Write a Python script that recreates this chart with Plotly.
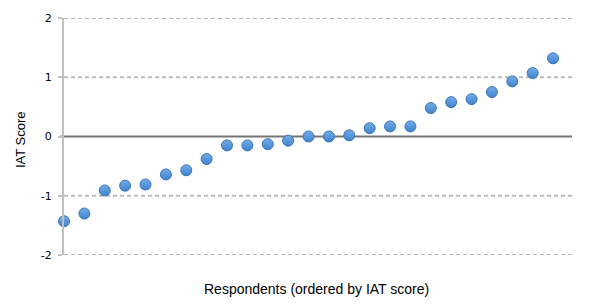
import plotly.graph_objects as go

respondents = list(range(1, 26))
iat_scores = [-1.43, -1.30, -0.91, -0.83, -0.81, -0.64, -0.57, -0.38,
              -0.15, -0.15, -0.13, -0.07, 0.00, 0.00, 0.02, 0.14, 0.17,
              0.17, 0.48, 0.58, 0.63, 0.75, 0.93, 1.07, 1.32]
y_ticks = [-2, -1, 0, 1, 2]
grid_values = [-2, -1, 1, 2]
x_title = "Respondents (ordered by IAT score)"
y_title = "IAT Score"

fig = go.Figure()
fig.add_trace(go.Scatter(
    x=respondents, y=iat_scores, mode="markers",
    marker=dict(size=11, color="#74ace6",
                gradient=dict(type="vertical", color="#3f83cf"),
                line=dict(color="#3a74b8", width=1)),
    showlegend=False, hoverinfo="y", cliponaxis=False))

for g in grid_values:
    fig.add_shape(type="line", xref="paper", yref="y", x0=0, x1=1, y0=g, y1=g,
                  line=dict(color="#bbbbbb", width=2, dash="4px,3px"), layer="below")

fig.add_shape(type="line", xref="paper", yref="y", x0=-0.008, x1=1, y0=0, y1=0,
              line=dict(color="#747474", width=2), layer="below")

fig.add_annotation(text=x_title, xref="paper", yref="paper", x=0.497, y=-0.143,
                   xanchor="center", yanchor="middle", showarrow=False,
                   font=dict(family="Liberation Sans, Arial", size=14, color="#000"))
fig.add_annotation(text=y_title, xref="paper", yref="paper", x=-0.0866, y=0.485,
                   xanchor="center", yanchor="middle", showarrow=False, textangle=-90,
                   font=dict(family="Liberation Sans, Arial", size=13, color="#000"))

fig.update_layout(
    width=583, height=299,
    margin=dict(l=56, r=19, t=10, b=52, autoexpand=False),
    paper_bgcolor="white", plot_bgcolor="white",
    xaxis=dict(range=[1, 25.93], showgrid=False, zeroline=False, automargin=False,
               showticklabels=False, ticks="", showline=False),
    yaxis=dict(range=[-2, 2], tickvals=y_ticks, ticktext=[str(v) for v in y_ticks],
               showgrid=False, automargin=False, ticklabelstandoff=4,
               zeroline=False, showline=True, linecolor="#c0c0c0", linewidth=2,
               ticks="outside", ticklen=4, tickcolor="#c0c0c0", tickwidth=2,
               tickfont=dict(family="DejaVu Sans, Verdana", size=11, color="#000")),
)

fig.write_html("out.html")
